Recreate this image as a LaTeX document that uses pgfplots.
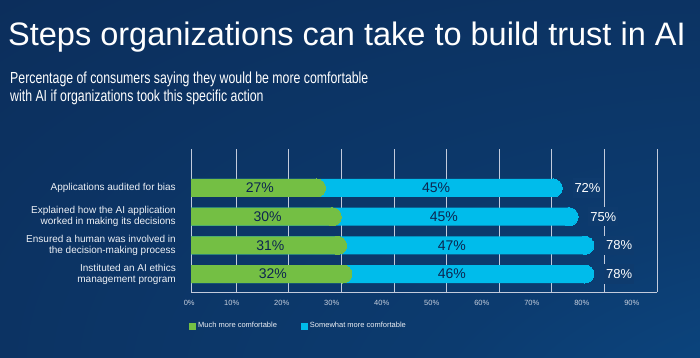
\documentclass[border=0pt]{standalone}
\usepackage{pgfplots}
\pgfplotsset{compat=1.18}
\usepackage{pgfplotstable}
\usepackage{graphicx}
\usepackage{fontspec}
\setmainfont{Liberation Sans}

\definecolor{bgbase}{HTML}{0C2B57}
\definecolor{bgmid}{HTML}{0C3B6F}
\definecolor{bglr}{HTML}{0A5699}
\definecolor{greenc}{HTML}{74BF44}
\definecolor{cyanc}{HTML}{00BCEB}
\definecolor{navytext}{HTML}{0C2550}
\definecolor{gridcol}{HTML}{C3CBDC}
\definecolor{tickcol}{HTML}{C8D0DE}
\definecolor{labcol}{HTML}{EEF1F6}
\definecolor{labelbg}{HTML}{0E3B6E}

\pgfdeclareradialshading{bgrad}{\pgfpoint{50bp}{-50bp}}{%
  color(0bp)=(bglr); color(30bp)=(bgmid); color(70bp)=(bgbase); color(100bp)=(bgbase)}

% row: 4 = top category ... 1 = bottom category
% g = much more comfortable, c = somewhat more comfortable, t = total
\pgfplotstableread{
row g c t
4 27 45 72
3 30 45 75
2 31 47 78
1 32 46 78
}\datatable

% half the bar height (9pt) expressed in x data units (axis: 5.2614pt per unit)
\def\capr{1.7106}

\begin{document}
\begin{tikzpicture}[x=1pt,y=1pt]
\fill[bgbase] (0,0) rectangle (700,357);
\shade[shading=bgrad] (0,0) rectangle (700,357);

\node[anchor=base west, inner sep=0, text=white, font=\fontsize{32.5}{36}\selectfont] at (8,312) {Steps organizations can take to build trust in AI};
\node[anchor=base west, inner sep=0, text=white, font=\fontsize{16}{19}\selectfont] at (10,273.7) {\scalebox{0.77}[1]{Percentage of consumers saying they would be more comfortable}};
\node[anchor=base west, inner sep=0, text=white, font=\fontsize{16}{19}\selectfont] at (10,255.3) {\scalebox{0.77}[1]{with AI if organizations took this specific action}};

\begin{axis}[
  at={(191pt,65pt)}, anchor=south west, scale only axis,
  width=466pt, height=143pt,
  xmin=1.43, xmax=90, ymin=0.372, ymax=5.36,
  /pgf/number format/assume math mode=true,
  axis x line=bottom, axis y line=left,
  axis line style={-, draw=gridcol, line width=0.8pt},
  xtick={1.43,10,20,30,40,50,60,70,80,90},
  xticklabels={0\%,10\%,20\%,30\%,40\%,50\%,60\%,70\%,80\%,90\%},
  xmajorgrids, grid style={draw=gridcol, line width=0.8pt},
  major tick length=0pt,
  ytick={1,2,3,4},
  yticklabels={{Instituted an AI ethics\\management program},
               {Ensured a human was involved in\\the decision-making process},
               {Explained how the AI application\\worked in making its decisions},
               {Applications audited for bias}},
  yticklabel style={align=right, font=\fontsize{10}{11}\selectfont, text=labcol, xshift=-11.7pt},
  xticklabel style={anchor=base, yshift=-13pt, font=\fontsize{7.5}{9}\selectfont, text=tickcol, xshift=-1.8pt-2.6pt*\ticknum},
  bar width=18pt,
  legend image code/.code={\fill[#1] (0pt,-3.5pt) rectangle (7pt,3.5pt);},
  legend style={at={(0,-0.2378)}, anchor=west, xshift=-2pt, draw=none, fill=none,
    inner xsep=0pt, font=\fontsize{7.5}{9}\selectfont, text=labcol,
    /tikz/every even column/.append style={column sep=22pt}},
  legend columns=2, legend cell align=left,
  capmark/.style={color=#1, only marks, mark=*, mark size=9pt,
    mark options={fill=#1, draw=#1, line width=0pt}, forget plot},
]
\addlegendimage{fill=greenc, draw=none}
\addlegendentry{Much more comfortable}
\addlegendimage{fill=cyanc, draw=none}
\addlegendentry{Somewhat more comfortable}

% total bars (somewhat + much) with a rounded right end
\addplot[xbar, bar shift=0pt, fill=cyanc, draw=none, forget plot]
  table[x expr=\thisrow{t}-\capr, y=row]{\datatable};
\addplot[capmark=cyanc]
  table[x expr=\thisrow{t}-\capr, y=row]{\datatable};
% "much more comfortable" bars on top
\addplot[xbar, bar shift=0pt, fill=greenc, draw=none, forget plot]
  table[x expr=\thisrow{g}-\capr, y=row]{\datatable};
\addplot[capmark=greenc]
  table[x expr=\thisrow{g}-\capr, y=row]{\datatable};

\addplot[draw=none, mark=none, forget plot, point meta=explicit,
  nodes near coords={\pgfmathprintnumber{\pgfplotspointmeta}\%},
  every node near coord/.style={anchor=center, font=\fontsize{14}{16}\selectfont, text=navytext}]
  table[x expr=(\thisrow{g}+2)/2, y=row, meta=g]{\datatable};
\addplot[draw=none, mark=none, forget plot, point meta=explicit,
  nodes near coords={\pgfmathprintnumber{\pgfplotspointmeta}\%},
  every node near coord/.style={anchor=center, font=\fontsize{14}{16}\selectfont, text=navytext}]
  table[x expr=(\thisrow{t}+24)/2, y=row, meta=c]{\datatable};
\addplot[draw=none, mark=none, forget plot, point meta=explicit,
  nodes near coords={\pgfmathprintnumber{\pgfplotspointmeta}\%},
  every node near coord/.style={anchor=west, xshift=10pt, fill=labelbg, inner xsep=2pt, inner ysep=5pt, font=\fontsize{13}{15}\selectfont, text=white}]
  table[x=t, y=row, meta=t]{\datatable};
\end{axis}

\pgfresetboundingbox
\useasboundingbox (0,0) rectangle (700,357);
\end{tikzpicture}
\end{document}
